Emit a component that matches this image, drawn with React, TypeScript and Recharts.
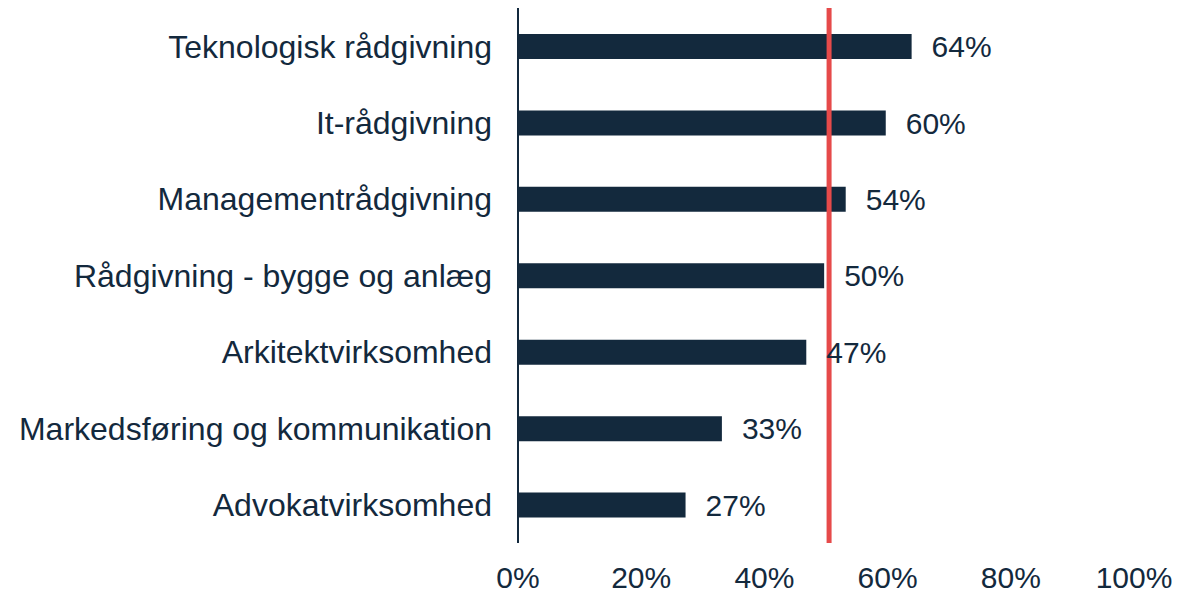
import { BarChart, Bar, XAxis, YAxis, ReferenceLine, LabelList } from 'recharts';

const categories = [
  'Teknologisk rådgivning',
  'It-rådgivning',
  'Managementrådgivning',
  'Rådgivning - bygge og anlæg',
  'Arkitektvirksomhed',
  'Markedsføring og kommunikation',
  'Advokatvirksomhed',
];
const shares = [63.9, 59.7, 53.2, 49.7, 46.8, 33.1, 27.2];
const shareLabels = ['64%', '60%', '54%', '50%', '47%', '33%', '27%'];
const xTicks = [0, 20, 40, 60, 80, 100];
const average = 50.5;

const data = categories.map((name, i) => ({ name, share: shares[i], label: shareLabels[i] }));

const navy = '#13293d';
const font = 'Liberation Sans, Arial, sans-serif';

export default function App() {
  return (
    <div style={{ position: 'absolute', left: 0, top: 0, background: '#fff' }}>
      <BarChart
        width={1201}
        height={595}
        data={data}
        layout="vertical"
        margin={{ top: 8, right: 67, left: 0, bottom: 0 }}
        barSize={25}
      >
        <XAxis
          type="number"
          domain={[0, 100]}
          ticks={xTicks}
          tickFormatter={(v: number) => `${v}%`}
          axisLine={false}
          tickLine={false}
          tickSize={0}
          tickMargin={24}
          height={52}
          tick={{ fill: navy, fontSize: 30, fontFamily: font }}
        />
        <YAxis
          type="category"
          dataKey="name"
          width={518}
          axisLine={{ stroke: navy, strokeWidth: 2 }}
          tickLine={false}
          tickSize={0}
          tickMargin={26}
          tick={{ fill: navy, fontSize: 32, fontFamily: font }}
        />
        <ReferenceLine x={average} stroke="#e64a4a" strokeWidth={5} />
        <Bar dataKey="share" fill={navy} isAnimationActive={false}>
          <LabelList
            dataKey="label"
            position="right"
            offset={20}
            fill={navy}
            fontSize={30}
            fontFamily={font}
          />
        </Bar>
      </BarChart>
    </div>
  );
}
